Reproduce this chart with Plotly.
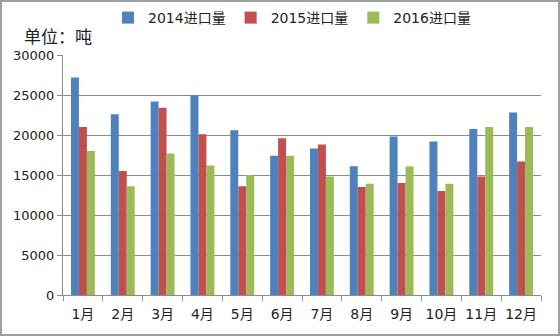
import plotly.graph_objects as go

months = ["1月", "2月", "3月", "4月", "5月", "6月", "7月", "8月", "9月", "10月", "11月", "12月"]
imports_2014 = [27200, 22600, 24200, 25000, 20600, 17400, 18300, 16100, 19800, 19200, 20750, 22800]
imports_2015 = [21000, 15500, 23400, 20100, 13600, 19600, 18800, 13500, 14000, 13000, 14800, 16700]
imports_2016 = [18000, 13600, 17700, 16200, 15000, 17400, 14800, 13900, 16100, 13900, 21000, 21000]
series_names = ["2014进口量", "2015进口量", "2016进口量"]
colors = ["#4F81BD", "#C0504D", "#9BBB59"]

FONT = "DejaVu Sans, Noto Sans CJK SC, sans-serif"
W, H = 560, 336
ML, MR, MT, MB = 63, 19, 55, 41
PW, PH = W - ML - MR, H - MT - MB

fig = go.Figure()
for name, vals, col in zip(series_names, [imports_2014, imports_2015, imports_2016], colors):
    fig.add_trace(go.Bar(x=months, y=vals, name=name, marker_color=col, marker_line_width=0))

# outer frame around the whole figure
fig.add_shape(type="rect", xref="paper", yref="paper",
              x0=(1 - ML) / PW, x1=(W - 1 - ML) / PW,
              y0=-(H - 1 - MT - PH) / PH, y1=(H - 1 - MB) / PH,
              line=dict(color="#A0A0A0", width=2), fillcolor="rgba(0,0,0,0)", layer="above")

fig.add_annotation(text="单位：吨", xref="paper", yref="paper",
                   x=(22 - ML) / PW, y=(H - 35 - MB) / PH, xanchor="left", yanchor="middle",
                   showarrow=False, font=dict(family="Noto Sans CJK SC", size=17, color="#222"))

fig.update_layout(
    width=W, height=H,
    margin=dict(l=ML, r=MR, t=MT, b=MB, autoexpand=False),
    paper_bgcolor="white", plot_bgcolor="white",
    barmode="group", bargap=0.4, bargroupgap=0,
    font=dict(family=FONT, size=13, color="#222"),
    legend=dict(orientation="h", x=(108 - ML) / PW, y=(H - 18 - MB) / PH,
                xanchor="left", yanchor="middle", font=dict(size=14),
                itemwidth=30, tracegroupgap=0, bgcolor="rgba(0,0,0,0)"),
    xaxis=dict(showline=True, linecolor="#8C8C8C", linewidth=1, ticks="outside",
               tickson="boundaries", ticklen=5, tickcolor="#8C8C8C",
               ticklabelstandoff=6, tickangle=0,
               tickfont=dict(size=14, color="#222"), showgrid=False),
    yaxis=dict(range=[0, 30000], dtick=5000, showline=True, linecolor="#8C8C8C", linewidth=1,
               ticks="outside", ticklen=5, tickcolor="#8C8C8C", showgrid=True,
               gridcolor="#8C8C8C", gridwidth=1, zeroline=False,
               tickfont=dict(size=13, color="#222"), tickformat="d"),
)

fig.write_html("out.html")
